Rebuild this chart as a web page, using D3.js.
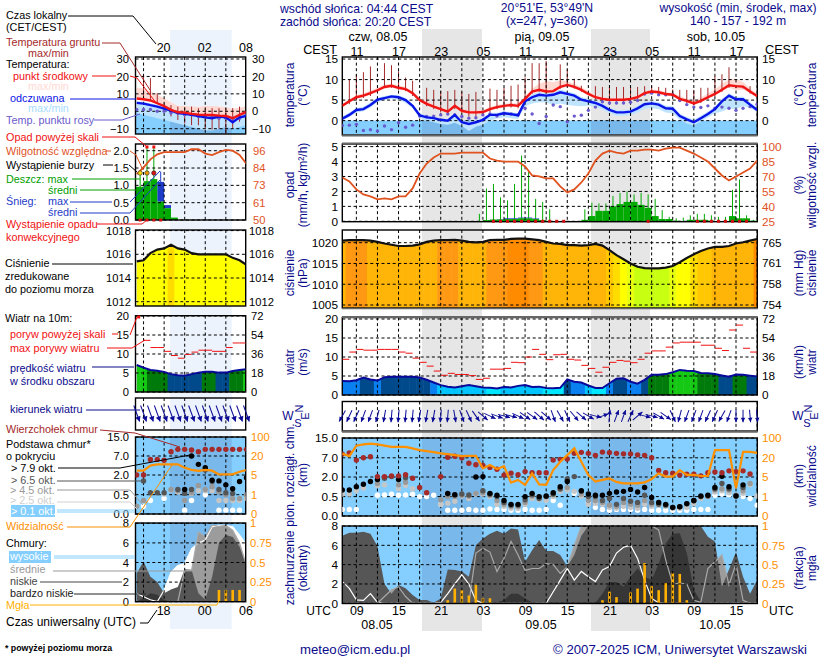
<!DOCTYPE html>
<html>
<head>
<meta charset="utf-8">
<script src="https://cdn.jsdelivr.net/npm/d3@7"></script>
<style>
  html, body { margin: 0; padding: 0; background: #fff; }
  svg { display: block; }
  text { font-family: "Liberation Sans", Arial, sans-serif; font-size: 10.8px; }
</style>
</head>
<body>
<svg id="chart" width="820" height="660"></svg>
<script>
// long panel: hourly, from 07 UTC 08.05 to 18 UTC 10.05
const temp = [3.6,4.7,5.7,6.1,6.7,7.4,8.2,8.5,8.0,7.7, 6.7,5.0,4.1,3.4,2.8,2.2,3.6,2.4,2.0,2.0, 2.1,2.8,3.3,3.6,3.8,3.6,5.3,7.1,7.5,7.1, 7.2,8.2,8.7,8.2,7.5,6.5,5.7,5.3,5.1,5.1, 5.1,5.3,5.7,6.7,7.1,6.9,6.5,6.3,5.3,4.8, 4.2,4.8,5.7,6.5,7.5,8.6,8.4,8.3,7.1,6.0];
const tempMax = [4.1,5.2,6.2,6.7,7.3,8,8.8,9,8.6,8.2, 7.2,5.6,4.7,3.9,3.3,2.7,4,2.9,2.5,2.5, 2.6,3.3,3.8,4.1,4.3,4.2,5.9,7.8,9,9.6, 9.4,9.8,9.6,8.9,8.2,7.1,6.3,5.8,5.6,5.6, 5.6,5.8,6.2,7.2,7.6,7.4,7,6.8,6,5.3, 4.8,5.6,6.6,7.6,9,10,10.2,9.4,7.8,6.5];
const tempMin = [3.3,4.3,5.3,5.7,6.3,7,7.8,8.1,7.6,7.3, 6.3,4.6,3.7,3,2.4,1.9,3.2,2,1.6,1.6, 1.7,2.4,2.9,3.2,3.4,3.2,4.8,6.6,7,6.7, 6.8,7.8,8.3,7.8,7.1,6.1,5.3,4.9,4.7,4.7, 4.7,4.9,5.3,6.3,6.7,6.5,6.1,5.9,4.9,4.4, 3.8,4.4,5.3,6.1,7.1,8.1,7.4,7.6,6.6,5.6];
const felt = [.5,1.4,2.6,2.8,3.8,5.1,5.5,5.9,5.7,5, 3.6,1.3,.8,.6,.2,0,1.4,-.4,-.8,-.4, .2,1.4,1.4,1.8,1.6,1.3,4.7,5.7,6.3,6.1, 6.3,6.9,6.5,6.1,5.1,4.7,4.3,3.6,2.6,2, 2,2.2,3,4,4.2,3.9,3,2.9,1.1,.3, -.4,.6,1.6,2.8,4.7,6.1,5.2,5.2,3.9,2.6];
const feltMax = [1,2,3.1,3.4,4.4,5.6,6,6.3,6.2,5.6, 4,1.8,1.3,1,.6,.4,1.8,.1,-.3,.1, .7,1.9,1.9,2.3,2.1,1.8,5.2,6.4,7,6.8, 7,7.6,7.1,6.7,5.7,5.3,4.9,4.2,3.2,2.6, 2.6,2.8,3.6,4.6,4.8,4.5,3.6,3.5,1.7,.9, .2,1.2,2.2,3.4,5.3,6.7,5.8,5.8,4.5,3.2];
const feltMin = [0,.9,2,2.3,3.2,4.5,5,5.3,5.1,4.3, 3,.6,0,-.4,-.8,-1,-.5,-1.3,-2.5,-1.5, -1,0,.5,.8,.6,.4,3.5,4.2,4.5,4.5, 3.8,4.2,3.8,3.6,3.5,3.7,3.3,2.8,1.8,1.2, 1.2,1.4,2,2.9,3,2.8,2,1.8,.2,-.7, -1.2,-.2,.8,1.8,2.2,3,2.8,3.6,3,2.2];
const dewPoint = [-1.2,-1.1,-.9,-2.4,-2.2,-2.5,-1.3,-2.2,-.5,-1.6, -1.1,1.1,1,1.1,1.4,1.6,1.4,1,.6,.7, 1.4,1.6,1.1,1.8,1.6,1.4,3,1.6,-.7,1, 3.8,3.4,-.3,1.1,1.3,2.5,3.3,4.6,4.3,4.3, 4.3,4.5,4.9,6.5,6.7,6.3,6.3,6.3,4.9,3.9, 3.3,3.2,3.6,3,3.3,3,2.5,3,3.4,4];
const groundMax = [null,10,11.3,11.8,13.2,null,14,13.5,12,10.5, 9.7,null,8,7.5,7.2,7.2,7.5,7,6.5,7, null,7.8,7.5,8,8.5,8.8,10.5,14,14,14.5, null,13.7,12.5,10.2,8.5,null,8.4,8.2,8.2,8.2, 8.2,8.2,8.2,8.4,8.5,8.2,8,7.6,7.5,7.5, 7.5,8,8,10.8,11.3,13,8.5,8.3,8.4,null];
const groundMin = [null,4,5,5.5,6,null,8,8,7.5,7.2, 6,null,3.5,2.8,2,1.5,2.8,1.8,1,1, null,2,2.8,3,3.2,3,4.8,6.5,7,6.6, null,7.8,8.2,7.8,7,null,5.2,4.8,4.6,4.6, 4.6,4.8,5.2,6.2,6.6,6.4,6,5.8,4.8,4.3, 3.7,4.3,5.2,6,7,8,7.9,7.8,6.6,null];

const humidity = [69,65,57,52,50,47,48,47,50,50, 58,73,83,89,93,93,93,94,94,94, 94,88,86,85,85,85,80,71,70,68, 68,60,54,57,64,73,86,93,96,94, 93,96,96,97,97,96,98,99,99,96, 93,89,85,78,71,66,70,74,78,86];
const rainMax = [0,0,0,0,0,0,0,0,0,0, 0,0,0,0,0,0,0,0,0,.5, 2.2,2.5,1.6,1.4,2.5,4.4,3.4,1.5,1.3,.8, 0,0,0,0,.8,1.25,1.2,1.2,1.7,1.9, 2,1.8,1.9,1.8,1.5,.75,.3,.2,.25,.4, .5,.5,.4,.3,.3,2.1,2.8,.4,.1];
const rainMean = [0,0,0,0,0,0,0,0,0,0, 0,0,0,0,0,0,0,0,0,0, .08,.12,.12,.15,.15,.2,.2,.15,.08,.03, 0,0,0,0,.1,.35,.7,.7,1,1.15, 1.3,1.3,1.1,.9,.35,.15,.15,.04,0,.1, .1,.1,.04,0,0,.35,.2,.2,.04];
const snowMean = [0,0,0,0,0,0,0,0,0,0, 0,0,0,0,0,0,0,0,0,0, 0,0,.03,.05,.05,.05,.05,.04,0,0, 0,0,0,0,0,0,0,0,0,0, 0,0,0,0,0,0,0,0,0,0, 0,0,0,0,0,0,0,0,0];
const convective = [21,22,23,24,25,26,27,28,29,30,31,43,50,51,52,53,54,55,56,57];

const pressure = [1020.5,1020.6,1020.6,1020.6,1020.5,1020.2,1019.8,1019.5,1019.2,1019.2, 1019.3,1019.6,1020.2,1020.5,1020.6,1020.6,1020.7,1020.5,1020.2,1020.1, 1020.2,1020.6,1020.7,1020.7,1020.9,1021,1021,1020.8,1020.6,1020.2, 1019.8,1019.7,1019.4,1019.4,1019.3,1019.4,1019.7,1019.3,1018.2,1017, 1016,1015,1014.2,1013.9,1013.8,1013.8,1014,1014.4,1015.3,1016.3, 1017.2,1018,1018.6,1019,1019,1019.2,1019.8,1020.1,1020.5,1020.9];
const pressureStops = [1014.3,1015.1,1016.6,1017.6,1018.7,1020.55,1020.85];
const pressureColors = ['#c8ff10','#e8ff10','#ffff00','#ffdc00','#ffc800','#ffb408','#ff9812','#ff8c00'];

const windSpeed = [3.7,3.6,3.9,4.6,4.1,3.8,4.7,4.8,4.8,4.8, 4.8,4.6,4,3.3,2.6,2.2,2,2.3,2.6,2.3, 2,1.9,1.7,2.1,2,2.4,2.6,2.1,2.2,1.85, 1.8,1.9,4.1,3.5,3.3,2.5,1.85,1.85,3.1,4.3, 4.4,3.5,3,4,5.3,5.3,5.5,6,6.6,6.4, 6.3,5.8,5.7,5.5,5.15,4.8,5.4,5.3,5.1,4.9];
const gust = [9.4,11.3,12,11.8,11.8,12,12,12,11.3,11, 9.7,8.6,7.6,6.3,5.2,5.7,5.4,5.4,5.1,4.1, 4.4,6.8,6.8,7,8.6,8.5,10,12,10.7,9.3, 10.6,10.7,9.4,9.2,7.8,7,6,7.3,8.6,9.1, 8.9,8.5,9.4,11,11.6,11.6,12.6,13.7,13.9,13.9, 13.9,13.1,13.1,12.3,11.7,17.1,18.4,12.3,11.3];
const windStops = [2,3,4,5.2,5.9];
const windColors = ['#00e8ff','#00c4ff','#0a80f0','#004a8c','#007a0a','#14c814'];
const windDir = [30,25,25,20,20,15,10,5,5,5, 5,10,10,10,5,5,350,340,335,325, 310,295,290,285,285,295,305,305,310,310, 340,330,335,320,310,300,285,250,185,200, 200,205,230,285,285,300,305,335,15,20, 20,20,25,25,30,20,0,0,355,355];

const cloudTop = [8.5,9,6.4,7,7.4,2.1,2.1,2.3,2.3,2.6, 1.9,1.2,.8,null,2.1,7.2,7.6,7,5.6,5.2, 5,4.5,4,2.5,3,2.6,3.4,3.1,3.1,3.1, 6.4,6.6,6.7,8.8,9.2,8.8,8,9.3,9.1,8.8, 8.6,8.6,8.2,8,7,3.7,3.1,3,2.5,2.7, 2.7,2.3,3.1,3.3,3.1,3.6,3.4,3.6,2.8,null];
const base79 = [1,1,1.25,1.45,1.65,1.8,null,null,1.8,null, null,null,null,null,null,.75,.65,null,null,2, 2.1,.75,.6,.4,.3,.3,.5,.75,.5,.55, .8,1.25,1.65,null,.95,.7,.6,.6,.75,.85, .9,1.05,.85,1.2,.48,.35,.3,.22,.24,.32, .4,.55,.6,1.2,2.2,1.25,.55,1.4,null,null];
const base65 = [null,null,null,null,null,null,1.9,2.1,null,1.95, null,null,null,null,null,.7,.62,.7,.62,null, .95,.68,.5,.35,.28,.28,.42,.65,.45,.5, .7,1.1,1.85,2.1,.9,.5,.5,.4,.45,.3, .45,.38,.35,.6,.35,.3,.28,.22,.24,.32, .4,.5,.55,1.1,1.5,1.1,.55,1.2,null,null];
const base45 = [null,null,null,null,null,1.5,null,null,1.4,1.6, null,null,null,null,.42,.5,.5,.6,.55,.75, .8,.6,.4,.3,.25,.25,.35,.55,.5,.5, .65,1.05,1.2,null,.7,.4,.4,.35,.28,.25, .35,.3,.28,.4,.3,.35,.28,.22,.24,.3, .38,.5,.55,1,1.1,1,.6,.95,1.5,null];
const base25 = [.7,.7,.95,1.15,null,1.35,1.4,null,1.1,1.35, 1.1,null,null,null,.3,.33,.38,.55,.45,.7, .7,.5,.3,.25,.2,.2,.3,.45,.42,.4, .5,.9,1,.9,.55,.3,.33,.3,.22,.2, .25,.22,.2,.3,.25,.28,.25,.2,.2,.22, .32,.45,.5,.85,.95,.8,.6,.75,1.4,.55];
const base01 = [.17,.17,.17,null,null,.6,.62,.68,.6,.62, .68,.5,.5,.6,.3,.15,.15,.15,.17,.15, .15,.18,.17,.17,.15,.15,.17,.15,.15,.17, .4,.28,null,.75,.8,.35,.22,.17,.15,.17, .17,.17,.15,.17,.15,.15,.15,.15,.15,.15, .17,.17,.17,.6,.7,.65,.55,.5,.45,.28];
const visibility = [37,27,69,74,77,74,69,64,64,64, 58,51,47,43,38,35,31,27,28,28, 11.7,14.3,11.2,13.5,3.85,4.4,3.4,7.8,3.5,3.4, 10.4,16.9,30.8,58,16.9,6.6,4.05,4.4,4.7,4, 3.7,3.7,3.7,3.9,4.6,7.8,5.3,5.3,10.4,6.6, 6.6,5.8,5.8,51,51,51,2.7,44,44,40];

const highCover = [2.25,1.55,.35,.3,1,.1,0,0,0,0, 0,0,0,0,.1,1,2,2.95,2,.3, 0,0,0,0,0,0,0,0,0,0, 1.2,2.4,3.6,2.4,3.3,2.75,2.25,3.45,3.8,5.2, 5.8,6,4.65,2.4,.5,.05,0,0,0,0, 0,0,0,0,0,0,0,0,0,0];
const midCover = [0,0,0,0,0,0,.7,1.4,1.7,.7, 0,0,0,0,0,0,0,0,0,5.2, 5.7,5.3,3.3,4.65,6.4,5,3.4,3.6,3.6,4.1, 4,3.1,3.8,6,8,8,8,8,8,8, 8,8,8,8,8,7.6,4.5,2,2.1,2, .3,.1,3.6,4.3,5,1.9,4.1,.3,0,0];
const lowCover = [7,7.3,7.3,7.4,7.2,5.9,2,1,1.9,1.55, .85,.35,.35,.05,.5,3.5,3.45,3.3,2.75,6, 6.7,7.2,7.5,7.2,7.75,7.65,4.3,5.5,6.55,5.4, 5.4,5,3.8,5,7,8,8,8,8,8, 8,8,8,8,8,8,8,8,8,8, 8,8,6.9,6.4,1.7,3.5,5.3,2.75,1,2.4];
const veryLowCover = [0,0,0,0,0,0,0,0,0,0, 0,0,0,0,0,0,0,0,0,0, 0,.15,.1,.35,1,1,.5,.1,0,0, 0,0,0,0,0,0,.05,1,2.2,2.2, 1.7,2.75,3.6,2.75,2.4,4.1,6.2,7.2,7.25,5.2, 1.4,.15,0,0,0,0,0,0,0,0];
const fog = [0,0,0,0,0,0,0,0,0,0, 0,0,0,0,0,.04,.19,.17,.1,.24, .065,.065,0,0,0,0,0,0,0,0, 0,0,0,0,0,0,0,.04,.15,.08, 0,.14,.19,.52,.22,.17,.26,.39,.38,.04, 0,0,0,0,0,0,0,0,0,0];

// short panel: hourly, from 14 UTC to 06 UTC, the legend sits around it
const legTemp = [7.3,6.9,6.2,4.6,3,.8,-.6,-.8,-1.5,-1.9,-2.1,-2.1,-2.5,-2.7,-4,-2.1,-.4];
const legTempMax = [13.5,13,11.5,9.5,7.5,5.2,3,3,2.8,2.5,3,3,2.8,2.2,1.5,2,3];
const legTempMin = [6.8,6.4,5.7,4.1,2.5,.3,-1.1,-1.3,-2,-2.4,-2.6,-2.6,-3,-3.2,-4.5,-2.6,-.9];
const legFelt = [4.8,4.4,3.5,2.7,1.5,.4,-1,-1.5,-2.1,-2.7,-3.5,-4,-3,-3.5,-6.3,-3.5,-2.7];
const legFeltMax = [5.8,5.4,4.5,3.7,2.5,1.4,0,-.5,-1.1,-1.7,-2.5,-3,-2,-2.5,-5.3,-2.5,-1.7];
const legFeltMin = [-1,-2,-3,-4,-5,-6,-7,-8,-9,-10,-11,-11,-10,-9,-10,-9,-8];
const legDew = [1,1,1,0,0,-1,-1,-2,-2,-3,-3,-3,-4,-4,-4,-4,-2];
const legGroundMax = [null,20.4,19,10.4,4.6,3.6,2.7,2.3,2.7,1.8,1.8,1.8,1.8,1.8,1.8,2.7,null];
const legGroundMin = [null,7,6.3,4.6,1,-3,-5,-7,-8,-8,-10,-10.5,-10,-13,-10,-6,null];
const legHumidity = [80,84.5,90,93.5,95,95,95,95,97,97,94,93,95,96.5,96,93,87];
const legRainMax = [1.4,2.1,2.1,0,0,0,0,0,0,0,0,0,0,0,0,0];
const legRainMean = [.96,1.12,1.18,.53,.34,.07,0,0,0,0,0,0,0,0,0,0];
const legSnowMean = [0,0,0,.57,.09,0,0,0,0,0,0,0,0,0,0,0];
const legSnowMax = [0,0,0,1.4,0,0,0,0,0,0,0,0,0,0,0,0];
const legConvective = [0,1,2,3];
const legOverScale = [1,2];
const legStorm = ['#ffe000','#f0a000','#e01010'];
const legPressure = [1015.4,1015.5,1016.1,1016.4,1016.5,1016.8,1016.5,1016.4,1016.1,1016,1016,1016,1016,1016,1015.7,1015.5,1015.1];
const legWind = [7.1,6.4,5.8,5.6,5.3,4.7,4.4,4.3,4.7,5.1,5.3,5.3,5.1,5.1,5.5,5.8,6];
const legGust = [null,13.6,11.7,11.7,10.7,9.6,8.9,9.9,10.5,11,11,10.7,10.7,11.7,12.9,12.9];
const legDir = [340,340,340,340,340,340,340,340,340,340,340,340,340,340,340,340,340];
const legTop = [2,2,6.1,6.1,5.9,8.8,9.8,9.8,9.5,8.8,9.8,9.8,9.8,9.8,9.8,9.8,9.8];
const leg79 = [null,null,null,null,null,null,null,.9,7,4.8,3.9,1.6,1.55,1.25,.95,1.5,1.8];
const leg65 = [null,1.55,.65,.65,.65,null,.9,.6,.9,null,3.3,1.5,.9,.65,.6,null,null];
const leg45 = [.2,.35,null,null,null,.9,.8,.35,.65,1.2,.9,1.1,.7,.5,.4,.4,.5];
const leg25 = [null,null,null,null,.55,.85,.7,null,.6,.8,.8,.8,.35,.35,.35,.35,.4];
const leg01 = [null,.2,.35,null,.4,null,null,.1,.35,null,.5,null,.1,.1,.1,.1,null];
const legVis = [8.4,8.4,12.4,13.4,13.4,13.4,13.4,10.8,9,8.2,9,8.4,5.5,5.5,5.5,7.6,9];
const legHigh = [.85,.5,.2,0,1.2,3,3.7,3.9,5.4,6,6.3,7.65,7.8,7.8,7.65,6.8,5.8];
const legMid = [0,0,0,0,0,0,0,3.2,3.2,7.1,6.6,7.8,7.7,7.8,7.3,6,3.7];
const legLow = [2.9,4.1,2.55,2,.85,1.25,1.5,3.3,3.25,.85,.2,2.55,6,6.8,6.6,5.6,3.7];
const legVeryLow = [0,.4,.85,.7,.17,0,0,0,0,0,0,0,0,0,0,0,0];
const legFog = [0,0,0,0,0,0,0,0,0,0,0,0,.15,.15,.15,.15,0];

// tick labels
const tempTicks = [0,5,10,15];
const legTempTicks = [-10,0,10,20,30];
const precipTicks = [0,1,2,3,4,5];
const humidityTicks = [25,40,55,70,85,100];
const legPrecipTicks = [0,.5,1,1.5,2];
const legHumidityTicks = [50,61,73,84,96];
const pressureTicks = [1005,1010,1015,1020];
const mmHgTicks = [754,758,761,765];
const legPressureTicks = [1012,1014,1016,1018];
const windTicks = [0,5,10,15,20];
const kmhTicks = [0,18,36,54,72];
const baseTicks = [0,.5,2,7,15];
const visTicks = [0,1,5,20,100];
const coverTicks = [0,2,4,6,8];
const fogTicks = [0,.25,.5,.75,1];
const localHours = ['11','17','23','05','11','17','23','05','11','17'];
const utcHours = ['09','15','21','03','09','15','21','03','09','15'];
const legLocalHours = ['20','02','08'];
const legUtcHours = ['18','00','06'];

const NAVY = '#0a0a8c', ORANGE = '#ff9000', HUM = '#e0521e', DARKRED = '#a52a2a', SKY = '#84cfff', SKYNIGHT = '#78b8ea';
const svg = d3.select('#chart');
const defs = svg.append('defs');
let clipCount = 0;

const mainX = d3.scaleLinear([0, 59], [342.3, 757.1]);
const legX = d3.scaleLinear([0, 16], [136.7, 246.4]);
const mainBox = { x0: 342.3, x1: 757.3, nights: [[422, 482], [591, 650]], gridH: d3.range(2, 60, 3), xs: mainX, dotR: 2.7, arrow: 12.5, headL: 4.5, headW: 2.2 };
const legBox = { x0: 135.5, x1: 245.7, nights: [[170, 231.7]], gridH: [1, 4, 7, 10, 13], xs: legX, dotR: 2.7, arrow: 17, headL: 5, headW: 2.8 };

function txt(x, y, s, color = '#000', anchor = 'start', size) {
  const t = svg.append('text').attr('x', x).attr('y', y).attr('dy', '.35em').attr('fill', color).attr('text-anchor', anchor).text(s);
  if (size) t.style('font-size', size + 'px');
  return t;
}
function vtxt(x, y, s, color = NAVY) {
  return svg.append('text').attr('transform', `translate(${x},${y}) rotate(-90)`).attr('dy', '.35em').attr('fill', color).attr('text-anchor', 'middle').style('font-size', '12px').text(s);
}
function lead(points, color, width = 1) {
  svg.append('path').attr('d', d3.line()(points)).attr('fill', 'none').attr('stroke', color).attr('stroke-width', width);
}

// starts a panel: night shade on the given background, clip, and returns the plotting group
function startPanel(box, top, bottom, bg) {
  const id = 'clip' + (clipCount++);
  defs.append('clipPath').attr('id', id).append('rect').attr('x', box.x0).attr('y', top).attr('width', box.x1 - box.x0).attr('height', bottom - top);
  const g = svg.append('g').attr('clip-path', `url(#${id})`);
  if (bg) {
    g.append('rect').attr('x', box.x0).attr('y', top).attr('width', box.x1 - box.x0).attr('height', bottom - top).attr('fill', bg);
    g.selectAll('.night').data(box.nights).join('rect').attr('x', d => d[0]).attr('y', top).attr('width', d => d[1] - d[0]).attr('height', bottom - top).attr('fill', SKYNIGHT);
  }
  return g;
}

function endPanel(box, top, bottom, y, ticks, frameColor = '#000') {
  const g = svg.append('g').attr('stroke', '#000').attr('stroke-dasharray', '3,2.6').attr('stroke-width', 1);
  g.selectAll('.v').data(box.gridH).join('line')
    .attr('x1', d => box.xs(d)).attr('x2', d => box.xs(d)).attr('y1', top).attr('y2', bottom);
  if (y) g.selectAll('.h').data(ticks).join('line')
    .attr('x1', box.x0).attr('x2', box.x1).attr('y1', d => y(d)).attr('y2', d => y(d));
  svg.append('rect').attr('x', box.x0).attr('y', top).attr('width', box.x1 - box.x0).attr('height', bottom - top)
    .attr('fill', 'none').attr('stroke', frameColor).attr('stroke-width', 1.4);
}

function axis(kind, x, scale, ticks, fmt, color = '#000', size = 11.8) {
  const ax = (kind === 'left' ? d3.axisLeft(scale) : d3.axisRight(scale)).tickValues(ticks).tickFormat(fmt).tickSize(0).tickPadding(0);
  const g = svg.append('g').attr('transform', `translate(${x},0)`).call(ax);
  g.select('.domain').remove();
  g.selectAll('text').attr('fill', color).style('font-size', size + 'px')
    .style('font-family', '"Liberation Sans", Arial, sans-serif');
}

function drawTemp(box, top, bottom, y, o) {
  const xs = box.xs, g = startPanel(box, top, bottom);
  const area = (hi, lo) => d3.area().x((d, i) => xs(i)).y0((d, i) => y(lo[i])).y1((d, i) => y(hi[i]))(hi);
  const lineOf = a => d3.line().x((d, i) => xs(i)).y(d => y(d))(a);
  g.append('rect').attr('x', box.x0).attr('y', y(0)).attr('width', box.x1 - box.x0).attr('height', bottom - y(0)).attr('fill', SKY);
  g.selectAll('.n').data(box.nights).join('rect').attr('x', d => d[0]).attr('y', y(0)).attr('width', d => d[1] - d[0]).attr('height', bottom - y(0)).attr('fill', SKYNIGHT);
  g.append('path').attr('d', area(o.feltMax, o.feltMin)).attr('fill', '#bfe4ff');
  g.append('path').attr('d', area(o.tempMax, o.tempMin)).attr('fill', '#ffd9d2');
  g.selectAll('.gr').data(o.groundMax.map((d, i) => [i, d, o.groundMin[i]]).filter(d => d[1] !== null)).join('line')
    .attr('x1', d => xs(d[0])).attr('x2', d => xs(d[0])).attr('y1', d => y(d[1])).attr('y2', d => y(d[2]))
    .attr('stroke', DARKRED).attr('stroke-width', 1);
  endPanel(box, top, bottom, y, o.ticks);
  const f = svg.append('g').attr('clip-path', g.attr('clip-path'));
  f.selectAll('circle').data(o.dew).join('circle').attr('cx', (d, i) => xs(i)).attr('cy', d => y(d)).attr('r', 1.7).attr('fill', '#6a5acd');
  f.append('path').attr('d', lineOf(o.felt)).attr('fill', 'none').attr('stroke', '#0a14e6').attr('stroke-width', 2.4);
  f.append('path').attr('d', lineOf(o.temp)).attr('fill', 'none').attr('stroke', '#f01414').attr('stroke-width', 2.4);
}

function drawPrecip(box, top, bottom, y, yHum, o) {
  const xs = box.xs, g = startPanel(box, top, bottom);
  const binX = i => i === 0 ? box.x0 : xs(i);
  g.selectAll('.mx').data(o.rainMax).join('line').attr('x1', (d, i) => xs(i + .5)).attr('x2', (d, i) => xs(i + .5))
    .attr('y1', y(0)).attr('y2', d => y(d)).attr('stroke', '#00aa00').attr('stroke-width', 1);
  if (o.snowMax) g.selectAll('.sx').data(o.snowMax).join('line').attr('x1', (d, i) => xs(i + .5)).attr('x2', (d, i) => xs(i + .5))
    .attr('y1', y(0)).attr('y2', d => y(d)).attr('stroke', '#1e3cc8').attr('stroke-width', 1);
  g.selectAll('.sn').data(o.snowMean).join('rect').attr('x', (d, i) => binX(i)).attr('width', (d, i) => xs(i + 1) - binX(i))
    .attr('y', (d, i) => y(d + o.rainMean[i])).attr('height', (d, i) => y(o.rainMean[i]) - y(d + o.rainMean[i])).attr('fill', '#1e3cc8');
  g.selectAll('.rn').data(o.rainMean).join('rect').attr('x', (d, i) => binX(i)).attr('width', (d, i) => xs(i + 1) - binX(i))
    .attr('y', d => y(d)).attr('height', d => y(0) - y(d)).attr('fill', '#00aa00');
  endPanel(box, top, bottom, y, o.ticks, '#000');
  svg.selectAll(null).data(o.convective).join('rect').attr('x', d => xs(d + .5) - 1.5).attr('y', y(0) - 1.5).attr('width', 3).attr('height', 3).attr('fill', '#d01010');
  svg.append('path').attr('d', d3.line().x((d, i) => xs(i)).y(d => yHum(d))(o.humidity)).attr('fill', 'none').attr('stroke', HUM).attr('stroke-width', 1.8).attr('clip-path', g.attr('clip-path'));
}

function drawPressure(box, top, bottom, y, o) {
  const xs = box.xs, g = startPanel(box, top, bottom);
  const color = d3.scaleThreshold(pressureStops, pressureColors);
  const id = 'clip' + (clipCount++);
  defs.append('clipPath').attr('id', id).append('path').attr('d', d3.area().x((d, i) => xs(i)).y0(bottom).y1(d => y(d))(o.values));
  g.append('g').attr('clip-path', `url(#${id})`).selectAll('rect').data(o.values).join('rect')
    .attr('x', (d, i) => xs(i - .5)).attr('width', (d, i) => xs(i + .5) - xs(i - .5) + .5).attr('y', top).attr('height', bottom - top).attr('fill', d => color(d));
  endPanel(box, top, bottom, y, o.ticks);
  svg.append('path').attr('d', d3.line().x((d, i) => xs(i)).y(d => y(d))(o.values)).attr('fill', 'none').attr('stroke', '#111').attr('stroke-width', 2.2).attr('clip-path', g.attr('clip-path'));
}

function drawWind(box, top, bottom, y, o) {
  const xs = box.xs, g = startPanel(box, top, bottom);
  const color = d3.scaleThreshold(windStops, windColors);
  const id = 'clip' + (clipCount++);
  defs.append('clipPath').attr('id', id).append('path').attr('d', d3.area().x((d, i) => xs(i)).y0(bottom).y1(d => y(d))(o.speed));
  g.append('g').attr('clip-path', `url(#${id})`).selectAll('rect').data(o.speed).join('rect')
    .attr('x', (d, i) => xs(i - .5)).attr('width', (d, i) => xs(i + .5) - xs(i - .5) + .5).attr('y', top).attr('height', bottom - top).attr('fill', d => color(d));
  endPanel(box, top, bottom, y, o.ticks);
  const f = svg.append('g').attr('clip-path', g.attr('clip-path'));
  f.append('path').attr('d', d3.line().x((d, i) => xs(i)).y(d => y(d))(o.speed)).attr('fill', 'none').attr('stroke', '#08089a').attr('stroke-width', 2);
  f.selectAll('.gu').data(o.gust.map((d, i) => [i, d]).filter(d => d[1] !== null)).join('line')
    .attr('x1', d => xs(d[0])).attr('x2', d => xs(d[0] + 1)).attr('y1', d => y(d[1])).attr('y2', d => y(d[1]))
    .attr('stroke', '#f01010').attr('stroke-width', 1);
}

function drawDir(box, top, bottom, cy, dirs) {
  const xs = box.xs;
  startPanel(box, top, bottom);
  endPanel(box, top, bottom, null, []);
  const L = box.arrow / 2, w = box.headW, h = box.headL;
  const g = svg.append('g').attr('fill', '#0a0a96').attr('stroke', '#0a0a96');
  g.selectAll('g').data(dirs).join('g').attr('transform', (d, i) => `translate(${xs(i)},${cy}) rotate(${d + 180})`)
    .call(a => a.append('line').attr('y1', L).attr('y2', -L).attr('stroke-width', 1))
    .call(a => a.append('path').attr('stroke', 'none').attr('d', `M0,${-L}L${-w},${-L + h}L${w},${-L + h}Z`));
}

function drawBase(box, top, bottom, y, yVis, o) {
  const xs = box.xs, g = startPanel(box, top, bottom, SKY);
  endPanel(box, top, bottom, y, baseTicks);
  const f = svg.append('g').attr('clip-path', g.attr('clip-path'));
  const layers = [[o.b01, '#ffffff'], [o.b25, '#c6c6c6'], [o.b45, '#999999'], [o.b65, '#555555'], [o.b79, '#000000'], [o.top, DARKRED]];
  layers.forEach(([vals, col]) => {
    f.append('g').selectAll('circle').data(vals.map((d, i) => [i, d]).filter(d => d[1] !== null)).join('circle')
      .attr('cx', d => xs(d[0])).attr('cy', d => y(d[1])).attr('r', box.dotR).attr('fill', col);
  });
  f.append('path').attr('d', d3.line().x((d, i) => xs(i)).y(d => yVis(d))(o.vis)).attr('fill', 'none').attr('stroke', ORANGE).attr('stroke-width', 2.2);
}

function drawCover(box, top, bottom, y, yFog, o) {
  const xs = box.xs, g = startPanel(box, top, bottom, SKY);
  const area = a => d3.area().x((d, i) => xs(i)).y0(bottom).y1(d => y(d))(a);
  const line = a => d3.line().x((d, i) => xs(i)).y(d => y(d))(a);
  g.append('path').attr('d', area(o.high)).attr('fill', '#fff');
  g.append('path').attr('d', area(o.mid)).attr('fill', '#9c9c9c');
  g.append('path').attr('d', area(o.low)).attr('fill', '#565656');
  g.append('path').attr('d', area(o.vlow)).attr('fill', '#363636');
  g.append('path').attr('d', line(o.high)).attr('fill', 'none').attr('stroke', '#fff').attr('stroke-width', 1.2);
  g.append('path').attr('d', line(o.mid)).attr('fill', 'none').attr('stroke', '#a8a8a8').attr('stroke-width', 1.2);
  g.selectAll('.fg').data(o.fog.map((d, i) => [i, d]).filter(d => d[1] > 0)).join('rect')
    .attr('x', d => xs(d[0]) - 1.3).attr('width', 2.6).attr('y', d => yFog(d[1])).attr('height', d => yFog(0) - yFog(d[1])).attr('fill', '#ffb000');
  endPanel(box, top, bottom, y, coverTicks);
}

// night bands behind everything
svg.append('rect').attr('width', 820).attr('height', 660).attr('fill', '#fff');
svg.selectAll('.nightLeg').data(legBox.nights).join('rect').attr('x', d => d[0]).attr('y', 30).attr('width', d => d[1] - d[0]).attr('height', 599).attr('fill', '#edf3fd');
svg.selectAll('.nightMain').data(mainBox.nights).join('rect').attr('x', d => d[0]).attr('y', 29).attr('width', d => d[1] - d[0]).attr('height', 602).attr('fill', '#e6e6e6');

// long panels
const yTemp = d3.scaleLinear([-3.5, 15.5], [135, 57]);
drawTemp(mainBox, 57, 135, yTemp, { temp, tempMax, tempMin, felt, feltMax, feltMin, dew: dewPoint, groundMax, groundMin, ticks: tempTicks });
const yPrecip = d3.scaleLinear([0, 5], [221.3, 146.6]);
const yHum = d3.scaleLinear([25, 100], [221.3, 146.6]);
drawPrecip(mainBox, 144, 221.7, yPrecip, yHum, { rainMax, rainMean, snowMean, convective, humidity, ticks: precipTicks });
const yPres = d3.scaleLinear([1005, 1020], [305, 242.7]);
const yMmHg = d3.scaleLinear(mmHgTicks, [305, 284, 263, 243]);
drawPressure(mainBox, 230, 308, yPres, { values: pressure, ticks: pressureTicks });
const yWind = d3.scaleLinear([0, 20], [395, 319]);
const yKmh = d3.scaleLinear([0, 72], [395, 319]);
drawWind(mainBox, 317.5, 395, yWind, { speed: windSpeed, gust, ticks: windTicks });
drawDir(mainBox, 401.5, 431, 416, windDir);
const yBase = d3.scaleLinear(baseTicks, [516, 496.6, 477, 457.8, 438]);
const yVis = d3.scaleLinear(visTicks, [516, 496.6, 477, 457.8, 438]);
drawBase(mainBox, 438, 516, yBase, yVis, { b01: base01, b25: base25, b45: base45, b65: base65, b79: base79, top: cloudTop, vis: visibility });
const yCover = d3.scaleLinear([0, 8], [603.3, 526]);
const yFog = d3.scaleLinear([0, 1], [603.3, 526]);
drawCover(mainBox, 526, 603.5, yCover, yFog, { high: highCover, mid: midCover, low: lowCover, vlow: veryLowCover, fog });

// heavier grey edges on some of the long panels
[[135.6, 2], [143.4, 2], [308.6, 1.5], [317, 2], [431.6, 2.4]].forEach(([yy, w]) => {
  svg.append('line').attr('x1', 342).attr('x2', 757.6).attr('y1', yy).attr('y2', yy).attr('stroke', '#666').attr('stroke-width', w);
});

// long panel axes
const n0 = d => d3.format('d')(d), n1 = d => d3.format('.1f')(d);
axis('left', 338, yTemp, tempTicks, n0); axis('right', 762, yTemp, tempTicks, n0);
axis('left', 338, yPrecip, precipTicks, n0); axis('right', 762, yHum, humidityTicks, n0, HUM);
axis('left', 338, yPres, pressureTicks, n0); axis('right', 762, yMmHg, mmHgTicks, n0);
axis('left', 338, yWind, windTicks, n0); axis('right', 762, yKmh, kmhTicks, n0);
axis('left', 338, yBase, baseTicks, n1); axis('right', 762, yVis, visTicks, n0, ORANGE);
axis('left', 338, yCover, coverTicks, n0); axis('right', 762, yFog, fogTicks, d => String(d), ORANGE);

const hourAxisTop = d3.axisTop(mainX).tickValues(d3.range(2, 60, 6)).tickFormat((d, i) => localHours[i]).tickSize(0).tickPadding(0);
const hourAxisBot = d3.axisBottom(mainX).tickValues(d3.range(2, 60, 6)).tickFormat((d, i) => utcHours[i]).tickSize(0).tickPadding(0);
[[hourAxisTop, 55.5], [hourAxisBot, 606]].forEach(([ax, yy]) => {
  const g = svg.append('g').attr('transform', `translate(0,${yy})`).call(ax);
  g.select('.domain').remove();
  g.selectAll('text').attr('fill', '#000').style('font-size', '12.5px').style('font-family', '"Liberation Sans", Arial, sans-serif');
});

// short panels
const yLTemp = d3.scaleLinear([-10, 30], [128.7, 59]);
drawTemp(legBox, 57, 134, yLTemp, { temp: legTemp, tempMax: legTempMax, tempMin: legTempMin, felt: legFelt, feltMax: legFeltMax, feltMin: legFeltMin, dew: legDew, groundMax: legGroundMax, groundMin: legGroundMin, ticks: legTempTicks });
const yLPrecip = d3.scaleLinear([0, 2], [220, 150.7]);
const yLHum = d3.scaleLinear(legHumidityTicks, [220, 202.7, 185, 168, 150.7]);
drawPrecip(legBox, 144, 220, yLPrecip, yLHum, { rainMax: legRainMax, rainMean: legRainMean, snowMean: legSnowMean, snowMax: legSnowMax, convective: legConvective, humidity: legHumidity, ticks: legPrecipTicks });
svg.selectAll('.over').data(legOverScale).join('rect').attr('x', d => legX(d + .5) - 1.5).attr('y', 145.5).attr('width', 3).attr('height', 3).attr('fill', '#f01010');
svg.selectAll('.storm').data(legStorm).join('circle').attr('cx', (d, i) => legX(i + .5)).attr('cy', 173).attr('r', 2.2).attr('fill', d => d).attr('stroke', '#333').attr('stroke-width', .7);
const yLPres = d3.scaleLinear([1012, 1018], [301.7, 230.6]);
drawPressure(legBox, 230, 306, yLPres, { values: legPressure, ticks: legPressureTicks });
const yLWind = d3.scaleLinear([0, 20], [392, 316]);
const yLKmh = d3.scaleLinear([0, 72], [392, 316]);
drawWind(legBox, 315.7, 392, yLWind, { speed: legWind, gust: legGust, ticks: windTicks });
svg.append('rect').attr('x', 137.2).attr('y', 315.5).attr('width', 3).attr('height', 3).attr('fill', '#f01010');
drawDir(legBox, 398, 430, 413.5, legDir);
const yLBase = d3.scaleLinear(baseTicks, [514, 494.7, 475, 456, 437]);
const yLVis = d3.scaleLinear(visTicks, [514, 494.7, 475, 456, 437]);
drawBase(legBox, 437, 514, yLBase, yLVis, { b01: leg01, b25: leg25, b45: leg45, b65: leg65, b79: leg79, top: legTop, vis: legVis });
const yLCover = d3.scaleLinear([0, 8], [601.7, 523.3]);
const yLFog = d3.scaleLinear([0, 1], [601.7, 523.3]);
drawCover(legBox, 523, 601.7, yLCover, yLFog, { high: legHigh, mid: legMid, low: legLow, vlow: legVeryLow, fog: legFog });

const LS = 11.2;
axis('left', 129, yLTemp, legTempTicks, n0, '#000', LS); axis('right', 252, yLTemp, legTempTicks, n0, '#000', LS);
axis('left', 129, yLPrecip, legPrecipTicks, n1, '#000', LS); axis('right', 253, yLHum, legHumidityTicks, n0, HUM, LS);
axis('left', 131, yLPres, legPressureTicks, n0, '#000', LS); axis('right', 249, yLPres, legPressureTicks, n0, '#000', LS);
axis('left', 129, yLWind, windTicks, n0, '#000', LS); axis('right', 251, yLKmh, kmhTicks, n0, '#000', LS);
axis('left', 129, yLBase, baseTicks, n1, '#000', LS); axis('right', 251, yLVis, visTicks, n0, ORANGE, LS);
axis('left', 129, yLCover, coverTicks, n0, '#000', LS); axis('right', 250, yLFog, fogTicks, d => String(d), ORANGE, LS);

const legHourX = [4, 10, 16];
svg.append('g').selectAll('text').data(legLocalHours).join('text').attr('x', (d, i) => legX(legHourX[i]) - .5).attr('y', 48).attr('dy', '.35em').attr('text-anchor', 'middle').style('font-size', '12.5px').text(d => d);
svg.append('g').selectAll('text').data(legUtcHours).join('text').attr('x', (d, i) => legX(legHourX[i]) - .5).attr('y', 610.5).attr('dy', '.35em').attr('text-anchor', 'middle').style('font-size', '12.5px').text(d => d);

// header
const HS = 12.2;
txt(280, 9, 'wschód słońca: 04:44 CEST', NAVY, 'start', HS);
txt(280, 22, 'zachód słońca: 20:20 CEST', NAVY, 'start', HS);
txt(547, 8, "20°51'E, 53°49'N", NAVY, 'middle', HS);
txt(547, 21, '(x=247,  y=360)', NAVY, 'middle', HS);
txt(738, 8, 'wysokość (min, środek, max)', NAVY, 'middle', HS);
txt(738, 21, '140 - 157 - 192 m', NAVY, 'middle', HS);
txt(378, 37, 'czw, 08.05', '#000', 'middle', 12.5);
txt(542, 37, 'pią, 09.05', '#000', 'middle', 12.5);
txt(716, 37, 'sob, 10.05', '#000', 'middle', 12.5);
txt(337, 50, 'CEST', '#000', 'end', 12.7);
txt(765, 50, 'CEST', '#000', 'start', 12.7);
txt(331, 611, 'UTC', '#000', 'end', 12);
txt(769, 611, 'UTC', '#000', 'start', 12);
txt(377, 625, '08.05', '#000', 'middle', 12.5);
txt(541, 625, '09.05', '#000', 'middle', 12.5);
txt(715, 625, '10.05', '#000', 'middle', 12.5);

// axis titles
vtxt(290, 95, 'temperatura'); vtxt(303, 95, '(°C)');
vtxt(290, 185, 'opad'); vtxt(303, 185, '(mm/h, kg/m²/h)');
vtxt(290, 273, 'ciśnienie'); vtxt(303, 273, '(hPa)');
vtxt(290, 362, 'wiatr'); vtxt(303, 362, '(m/s)');
vtxt(290, 475, 'pion. rozciągł. chm.'); vtxt(303, 475, '(km)');
vtxt(290, 568, 'zachmurzenie'); vtxt(303, 568, '(oktanty)');
vtxt(799, 95, '(°C)'); vtxt(812, 95, 'temperatura');
vtxt(799, 185, '(%)'); vtxt(812, 185, 'wilgotność wzgl.');
vtxt(799, 273, '(mm Hg)'); vtxt(812, 273, 'ciśnienie');
vtxt(799, 362, '(km/h)'); vtxt(812, 362, 'wiatr');
vtxt(799, 476, '(km)'); vtxt(812, 476, 'widzialność');
vtxt(799, 568, '(frakcja)'); vtxt(812, 568, 'mgła');

// compass marks
[[288, 299, 305], [798, 808, 814]].forEach(([w, c, e]) => {
  txt(w, 416, 'W', NAVY, 'middle', 12);
  vtxt(c, 408.5, 'N').style('font-size', '11px');
  txt(c - 1, 423.5, 'S', NAVY, 'middle', 11);
  vtxt(e, 416, 'E').style('font-size', '11px');
});

// footer
txt(300, 649, 'meteo@icm.edu.pl', NAVY, 'start', 13.2);
txt(553, 649, '© 2007-2025 ICM, Uniwersytet Warszawski', NAVY, 'start', 13.2);
txt(5, 648, '* powyżej poziomu morza', '#000', 'start', 8.8).style('font-weight', 'bold');

// legend notes around the short panels
txt(6, 15, 'Czas lokalny');
txt(6, 27, '(CET/CEST)');
lead([[68, 16], [133, 16], [156, 44]], '#000');
txt(6, 42, 'Temperatura gruntu', DARKRED);
txt(28, 53, 'max/min', DARKRED);
lead([[102, 43], [120, 43], [150, 90]], DARKRED);
txt(6, 64, 'Temperatura:');
txt(13, 76, 'punkt środkowy', '#f01010');
lead([[92, 76], [116, 76]], '#f01010');
lead([[130, 76], [137, 78], [157, 104]], '#f01010');
txt(28, 86, 'max/min', '#ffd9d2');
txt(10, 98, 'odczuwana', '#0a14e6');
lead([[70, 99], [136, 99]], '#0a14e6');
txt(28, 108, 'max/min', '#a8dcff');
txt(6, 120, 'Temp. punktu rosy', '#6a5acd');
lead([[94, 120], [122, 120], [140, 114]], '#6a5acd');
txt(6, 137, 'Opad powyżej skali', '#f01010');
lead([[102, 137], [135, 137], [146, 146]], '#f01010');
txt(6, 151, 'Wilgotność względna', HUM);
lead([[106, 151], [111, 151]], HUM);
lead([[130, 151], [136, 155], [143, 170]], HUM);
txt(6, 165, 'Wystąpienie burzy');
lead([[103, 165], [113, 165]], '#000');
lead([[129, 165], [137, 172]], '#000');
txt(6, 179, 'Deszcz: max', '#00a000');
txt(48, 190, 'średni', '#00a000');
lead([[72, 179], [140, 179]], '#00a000');
lead([[80, 190], [140, 190]], '#00a000');
txt(6, 201, 'Śnieg:', '#1e3cc8');
txt(48, 201, 'max', '#1e3cc8');
txt(48, 212, 'średni', '#1e3cc8');
lead([[70, 202], [112, 202]], '#1e3cc8');
lead([[130, 202], [160, 171]], '#1e3cc8');
lead([[80, 213], [130, 213], [160, 180]], '#1e3cc8');
txt(6, 224, 'Wystąpienie opadu', '#f01010');
txt(6, 237, 'konwekcyjnego', '#f01010');
lead([[97, 224], [142, 224], [147, 220]], '#f01010');
txt(5, 263, 'Ciśnienie');
txt(5, 276, 'zredukowane');
txt(5, 289, 'do poziomu morza');
lead([[52, 264], [133, 264]], '#000');
txt(5, 318, 'Wiatr na 10m:');
txt(10, 334, 'poryw powyżej skali', '#f01010');
lead([[112, 334], [118, 334]], '#f01010');
lead([[130, 335], [137, 317]], '#f01010');
txt(10, 348, 'max porywy wiatru', '#f01010');
lead([[107, 348], [132, 348], [145, 340]], '#f01010');
txt(10, 368, 'prędkość wiatru', NAVY);
lead([[92, 367], [134, 367]], NAVY);
txt(10, 381, 'w środku obszaru', NAVY);
txt(10, 409, 'kierunek wiatru', NAVY);
lead([[86, 410], [140, 410]], NAVY);
txt(6, 429, 'Wierzchołek chmur', DARKRED);
lead([[100, 430], [135, 433], [180, 447]], DARKRED);
txt(6, 444, 'Podstawa chmur*');
txt(6, 456, 'o pokryciu');
txt(11, 468, '> 7.9 okt.');
lead([[58, 468], [120, 468], [190, 455]], '#000');
txt(11, 480, '> 6.5 okt.', '#555');
lead([[57, 481], [143, 481]], '#555');
txt(10, 490, '> 4.5 okt.', '#999');
lead([[57, 490], [130, 490], [143, 505]], '#999');
txt(10, 500, '> 2.5 okt.', '#d0d0d0');
lead([[57, 502], [130, 502], [137, 509]], '#d0d0d0');
svg.append('rect').attr('x', 11).attr('y', 505).attr('width', 44).attr('height', 12).attr('fill', SKY);
txt(11, 511, '> 0.1 okt.', '#fff');
lead([[57, 510], [135, 510]], SKY);
lead([[57, 512], [135, 512]], SKY);
txt(6, 526, 'Widzialność', ORANGE);
lead([[67, 527], [130, 527], [172, 465]], ORANGE);
txt(6, 543, 'Chmury:');
svg.append('rect').attr('x', 9).attr('y', 551).attr('width', 42).attr('height', 12).attr('fill', SKY);
txt(10, 556, 'wysokie', '#fff');
lead([[54, 556], [135, 556]], SKY);
lead([[54, 558], [135, 558]], SKY);
txt(10, 569, 'średnie', '#999');
lead([[53, 571], [192, 571]], '#999');
txt(10, 581, 'niskie', '#444');
lead([[40, 582], [122, 582]], '#444');
txt(10, 593, 'bardzo niskie', '#222');
lead([[74, 594], [146, 594]], '#222');
txt(6, 605, 'Mgła', '#ffb000');
lead([[30, 605], [217, 605], [219, 600]], '#ffb000');
txt(6, 622, 'Czas uniwersalny (UTC)', '#000', 'start', 12);
lead([[140, 623], [148, 623], [157, 610]], '#000');
</script>
</body>
</html>
